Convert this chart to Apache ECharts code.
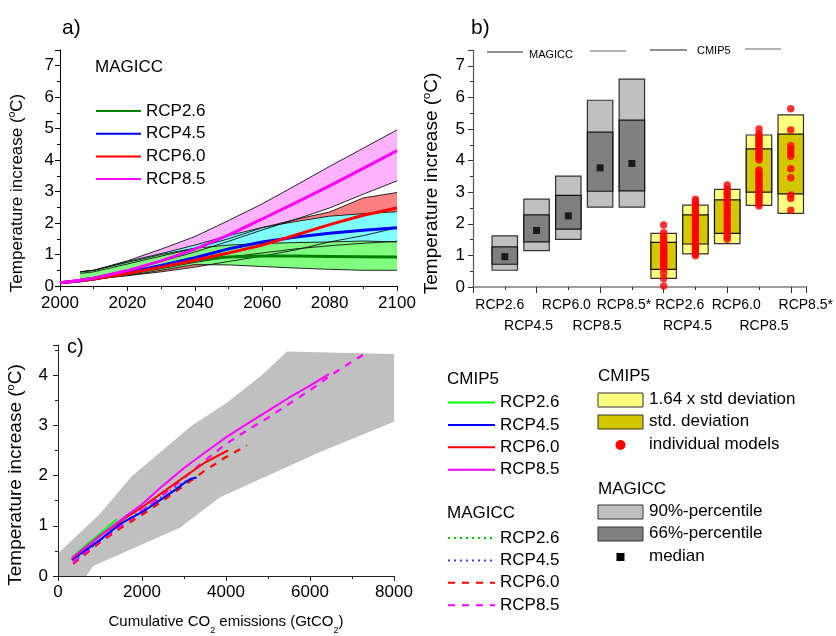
<!DOCTYPE html>
<html><head><meta charset="utf-8">
<script src="https://cdn.jsdelivr.net/npm/echarts@6/dist/echarts.min.js"></script>
<style>html,body{margin:0;padding:0;background:#fff}#c{width:836px;height:636px}</style>
</head><body><div id="c"></div>
<script>
// ---------------- DATA ----------------
// Panel a: MAGICC projections (years, ranges and medians)
const bandYears = [2006, 2010, 2020, 2030, 2040, 2050, 2060, 2070, 2080, 2090, 2100];
const medianYears = [2000, 2006, 2010, 2020, 2030, 2040, 2050, 2060, 2070, 2080, 2090, 2100];
const rcp85Upper = [0.45, 0.50, 0.80, 1.17, 1.57, 2.08, 2.61, 3.20, 3.80, 4.38, 4.96];
const rcp85Lower = [0.22, 0.28, 0.50, 0.78, 1.08, 1.42, 1.78, 2.12, 2.48, 2.92, 3.34];
const rcp60Upper = [0.40, 0.45, 0.70, 0.95, 1.20, 1.50, 1.85, 2.12, 2.35, 2.80, 2.97];
const rcp60Lower = [0.20, 0.22, 0.33, 0.45, 0.60, 0.78, 0.95, 1.15, 1.40, 1.60, 1.85];
const rcp45Upper = [0.45, 0.50, 0.78, 1.03, 1.30, 1.60, 1.86, 2.05, 2.22, 2.30, 2.36];
const rcp45Lower = [0.20, 0.22, 0.36, 0.55, 0.75, 0.92, 1.05, 1.18, 1.28, 1.36, 1.42];
const rcp26Upper = [0.45, 0.50, 0.75, 1.00, 1.20, 1.30, 1.35, 1.38, 1.40, 1.43, 1.40];
const rcp26Lower = [0.20, 0.22, 0.33, 0.50, 0.68, 0.67, 0.62, 0.57, 0.53, 0.50, 0.50];
const rcp26Median = [0.10, 0.17, 0.22, 0.40, 0.62, 0.83, 0.92, 0.95, 0.95, 0.94, 0.93, 0.92];
const rcp45Median = [0.10, 0.17, 0.22, 0.42, 0.65, 0.90, 1.18, 1.40, 1.56, 1.68, 1.77, 1.85];
const rcp60Median = [0.10, 0.17, 0.22, 0.40, 0.60, 0.82, 1.05, 1.30, 1.62, 1.95, 2.25, 2.48];
const rcp85Median = [0.10, 0.18, 0.25, 0.49, 0.80, 1.17, 1.62, 2.13, 2.65, 3.18, 3.74, 4.30];

// Panel b: boxes
const boxCategories = ['RCP2.6', 'RCP4.5', 'RCP6.0', 'RCP8.5', 'RCP8.5*', 'RCP2.6', 'RCP4.5', 'RCP6.0', 'RCP8.5', 'RCP8.5*'];
const magiccLo90 = [0.53, 1.15, 1.51, 2.53, 2.53];
const magiccHi90 = [1.62, 2.78, 3.51, 5.91, 6.58];
const magiccLo66 = [0.72, 1.43, 1.83, 3.03, 3.04];
const magiccHi66 = [1.27, 2.28, 2.90, 4.90, 5.28];
const magiccMedian = [0.96, 1.79, 2.25, 3.77, 3.91];
const cmipLo164 = [0.27, 1.05, 1.37, 2.58, 2.33];
const cmipHi164 = [1.70, 2.59, 3.09, 4.81, 5.45];
const cmipLoStd = [0.56, 1.36, 1.70, 3.00, 2.95];
const cmipHiStd = [1.41, 2.28, 2.76, 4.37, 4.84];
const models26 = [0.03, 0.27, 0.45, 0.60, 0.65, 0.70, 0.75, 0.80, 0.85, 0.90, 0.95, 1.00, 1.05, 1.10, 1.15, 1.20, 1.25, 1.30, 1.40, 1.50, 1.60, 1.72, 1.96];
const models45 = [0.99, 1.05, 1.12, 1.20, 1.28, 1.35, 1.42, 1.50, 1.58, 1.65, 1.72, 1.80, 1.88, 1.95, 2.02, 2.10, 2.18, 2.25, 2.32, 2.40, 2.50, 2.60, 2.68, 2.78];
const models60 = [1.51, 1.60, 1.70, 1.80, 1.90, 2.00, 2.10, 2.20, 2.30, 2.40, 2.50, 2.60, 2.70, 2.80, 2.90, 3.00, 3.10, 3.23];
const models85 = [5.00, 4.85, 4.78, 4.70, 4.62, 4.55, 4.48, 4.40, 4.32, 4.25, 4.18, 4.10, 4.02, 3.70, 3.62, 3.55, 3.48, 3.40, 3.32, 3.25, 3.18, 3.10, 3.02, 2.95, 2.88, 2.80, 2.72, 2.64, 2.56];
const models85s = [5.64, 4.97, 4.47, 4.36, 4.25, 4.14, 3.74, 3.46, 2.91, 2.80, 2.43];

// Panel c: cumulative emissions vs temperature
const rangeUpperX = [0, 1000, 1750, 3180, 4020, 4850, 5450, 8000];
const rangeUpperY = [0.45, 1.24, 1.98, 2.99, 3.45, 4.00, 4.47, 4.42];
const rangeLowerX = [8000, 6240, 3860, 2900, 840, 670, 0];
const rangeLowerY = [3.07, 2.47, 1.57, 0.96, 0.20, 0.00, 0.00];
const cmip26X = [330, 700, 1000, 1400];
const cmip26Y = [0.37, 0.64, 0.84, 1.13];
const cmip45X = [330, 1000, 1500, 2000, 2500, 2800, 3000, 3150, 3300];
const cmip45Y = [0.32, 0.72, 1.05, 1.27, 1.55, 1.72, 1.85, 1.93, 1.96];
const cmip60X = [330, 1000, 1500, 2000, 2500, 3000, 3500, 4050];
const cmip60Y = [0.34, 0.80, 1.10, 1.37, 1.67, 1.97, 2.26, 2.50];
const cmip85X = [330, 700, 1000, 1500, 2000, 2500, 3000, 3500, 4000, 4500, 5000, 5500, 6000, 6450];
const cmip85Y = [0.36, 0.60, 0.80, 1.12, 1.43, 1.80, 2.15, 2.46, 2.76, 3.03, 3.29, 3.55, 3.79, 4.02];
const mag26X = [360, 800, 1300];
const mag26Y = [0.30, 0.60, 0.93];
const mag45X = [360, 1000, 1500, 2000, 2500, 3000, 3150];
const mag45Y = [0.28, 0.70, 1.03, 1.32, 1.60, 1.88, 1.93];
const mag60X = [360, 1000, 1500, 2000, 2500, 3000, 3500, 4000, 4500];
const mag60Y = [0.24, 0.67, 0.96, 1.22, 1.50, 1.80, 2.10, 2.37, 2.60];
const mag85X = [360, 1000, 1500, 2000, 2500, 3000, 3500, 4000, 4500, 5000, 5500, 6000, 6500, 7000, 7400];
const mag85Y = [0.27, 0.70, 1.00, 1.30, 1.62, 1.95, 2.30, 2.63, 2.90, 3.15, 3.43, 3.70, 4.00, 4.27, 4.47];

// ---------------- STYLE ----------------
const FONT = '"Liberation Sans", Arial, sans-serif';
const zip = (xs, ys) => xs.map((x, i) => [x, ys[i]]);
const labelRow = {1: 1, 2: 2, 3: 1, 4: 2, 5: 1, 6: 1, 7: 2, 8: 1, 9: 2, 10: 1};
const labelShift = {1: -5, 2: -8, 3: -2, 4: -3, 5: -8, 6: 16, 7: -8, 8: 9, 9: 5, 10: 15};
const richB = {};
Object.keys(labelShift).forEach(k => {
  const d = labelShift[k];
  richB['o' + k] = {fontSize: 14, fontFamily: FONT, color: '#000',
    padding: [0, d < 0 ? -2 * d : 0, 0, d > 0 ? 2 * d : 0]};
});
function rowFormatter(row) {
  return v => {
    const i = Math.round(v);
    if (Math.abs(v - i) > 1e-6 || i < 1 || i > boxCategories.length) return '';
    if (labelRow[i] !== row) return '';
    return '{o' + i + '|' + boxCategories[i - 1] + '}';
  };
}
const intLabel = v => (Math.abs(v - Math.round(v)) < 1e-6 ? String(Math.round(v)) : '');
const plainLabel = v => String(v);
const titleRich = {sup: {fontSize: 10, fontFamily: FONT, color: '#000', verticalAlign: 'top', lineHeight: 20}};

const chart = echarts.init(document.getElementById('c'), null, {renderer: 'canvas'});

function bandSeries(upper, lower, color) {
  return {
    type: 'custom', xAxisIndex: 0, yAxisIndex: 0, silent: true, z: 1,
    data: [[bandYears[0], lower[0]]],
    renderItem: (params, api) => {
      const pts = [];
      bandYears.forEach((y, i) => pts.push(api.coord([y, upper[i]])));
      for (let i = bandYears.length - 1; i >= 0; i--) pts.push(api.coord([bandYears[i], lower[i]]));
      return {type: 'polygon', shape: {points: pts}, style: {fill: color}};
    }
  };
}
function outline(vals) {
  return {type: 'line', xAxisIndex: 0, yAxisIndex: 0, silent: true, z: 3, symbol: 'none',
    data: zip(bandYears, vals), lineStyle: {color: '#111', width: 0.9}};
}
function median(name, vals, color) {
  return {name: name, type: 'line', xAxisIndex: 0, yAxisIndex: 0, z: 4, symbol: 'none', showSymbol: false,
    data: zip(medianYears, vals), lineStyle: {color: color, width: 3}, itemStyle: {color: color}};
}
function boxSeries(pos, lo, hi, loIn, hiIn, light, dark) {
  return {
    type: 'custom', xAxisIndex: 1, yAxisIndex: 1, silent: true, z: 2,
    data: pos.map((x, i) => [x, lo[i], hi[i], loIn[i], hiIn[i]]),
    encode: {x: 0, y: [1, 2, 3, 4]},
    renderItem: (params, api) => {
      const x = api.value(0);
      const w = api.size([0.8, 0])[0];
      const a0 = api.coord([x, api.value(1)]), a1 = api.coord([x, api.value(2)]);
      const b0 = api.coord([x, api.value(3)]), b1 = api.coord([x, api.value(4)]);
      return {type: 'group', children: [
        {type: 'rect', shape: {x: a1[0] - w / 2, y: a1[1], width: w, height: a0[1] - a1[1]},
          style: {fill: light, stroke: '#333', lineWidth: 1.2}},
        {type: 'rect', shape: {x: b1[0] - w / 2, y: b1[1], width: w, height: b0[1] - b1[1]},
          style: {fill: dark, stroke: '#111', lineWidth: 1.2}}
      ]};
    }
  };
}
const magiccPos = [1, 2, 3, 4, 5];
const cmipPos = [6, 7, 8, 9, 10];
const modelSets = [models26, models45, models60, models85, models85s];
const modelPoints = [];
modelSets.forEach((set, k) => set.forEach(v => modelPoints.push([cmipPos[k], v])));

function cLine(name, xs, ys, color, width, type) {
  return {name: name, type: 'line', xAxisIndex: 4, yAxisIndex: 2, z: 4, symbol: 'none', showSymbol: false,
    data: zip(xs, ys), lineStyle: {color: color, width: width, type: type || 'solid'}, itemStyle: {color: color}};
}

const axisText = {fontSize: 17, fontFamily: FONT, color: '#000'};
const legendBase = {orient: 'vertical', padding: 0, selectedMode: false, itemHeight: 14,
  itemStyle: {opacity: 0, borderWidth: 0},
  formatter: n => n.split('|')[0], textStyle: {fontSize: 17, lineHeight: 20, fontFamily: FONT, color: '#000'}};

const option = {
  animation: false,
  backgroundColor: '#fff',
  textStyle: {fontFamily: FONT},
  grid: [
    {left: 60, top: 50, width: 337, height: 236},
    {left: 473, top: 50, width: 336, height: 237},
    {left: 58, top: 345, width: 336, height: 235}
  ],
  xAxis: [
    {gridIndex: 0, type: 'value', position: 'bottom', min: 2000, max: 2100, interval: 20,
      axisLine: {lineStyle: {color: '#000', width: 1}}, axisTick: {length: 5, lineStyle: {color: '#000'}},
      minorTick: {show: true, splitNumber: 2, length: 3, lineStyle: {color: '#000'}},
      splitLine: {show: false}, axisLabel: Object.assign({margin: 9, formatter: plainLabel}, axisText)},
    {gridIndex: 1, type: 'value', position: 'bottom', min: 0, max: 10.5, interval: 2,
      axisLine: {lineStyle: {color: '#7f7f7f', width: 1.5}}, axisTick: {length: 6, lineStyle: {color: '#333'}},
      minorTick: {show: true, splitNumber: 2, length: 3, lineStyle: {color: '#333'}},
      splitLine: {show: false}, axisLabel: {show: false}},
    {gridIndex: 1, type: 'value', position: 'bottom', offset: 0, min: 0, max: 10.5, interval: 1,
      axisLine: {show: false}, axisTick: {show: false}, splitLine: {show: false},
      axisLabel: {margin: 11, formatter: rowFormatter(1), rich: richB, fontSize: 14, color: '#000'}},
    {gridIndex: 1, type: 'value', position: 'bottom', offset: 0, min: 0, max: 10.5, interval: 1,
      axisLine: {show: false}, axisTick: {show: false}, splitLine: {show: false},
      axisLabel: {margin: 32, formatter: rowFormatter(2), rich: richB, fontSize: 14, color: '#000'}},
    {gridIndex: 2, type: 'value', position: 'bottom', min: 0, max: 8000, interval: 2000, z: 5,
      axisLine: {lineStyle: {color: '#222', width: 1}}, axisTick: {length: 5, lineStyle: {color: '#222'}},
      minorTick: {show: true, splitNumber: 2, length: 3, lineStyle: {color: '#222'}},
      splitLine: {show: false}, axisLabel: Object.assign({margin: 8, formatter: plainLabel}, axisText),
      name: 'Cumulative CO{sub|2} emissions (GtCO{sub|2})', nameLocation: 'middle', nameGap: 37,
      nameTextStyle: {fontSize: 15, fontFamily: FONT, color: '#000', lineHeight: 18,
        rich: {sub: {fontSize: 9, fontFamily: FONT, color: '#000', verticalAlign: 'bottom', lineHeight: 18, padding: [0, 0, -4, 0]}}}}
  ],
  yAxis: [
    {gridIndex: 0, type: 'value', min: 0, max: 7.5, interval: 1,
      axisLine: {show: true, lineStyle: {color: '#000', width: 1}}, axisTick: {show: true, length: 5, lineStyle: {color: '#000'}},
      minorTick: {show: true, splitNumber: 2, length: 3, lineStyle: {color: '#000'}},
      splitLine: {show: false}, axisLabel: Object.assign({margin: 6, formatter: intLabel}, axisText),
      name: 'Temperature increase ({sup|o}C)', nameLocation: 'middle', nameRotate: 90, nameGap: 33,
      nameTextStyle: {fontSize: 17, fontFamily: FONT, color: '#000', lineHeight: 20, padding: [0, 50, 0, 0], rich: titleRich}},
    {gridIndex: 1, type: 'value', min: 0, max: 7.5, interval: 1,
      axisLine: {show: true, lineStyle: {color: '#555', width: 1.2}}, axisTick: {show: true, length: 5, lineStyle: {color: '#333'}},
      minorTick: {show: true, splitNumber: 2, length: 3, lineStyle: {color: '#333'}},
      splitLine: {show: false}, axisLabel: Object.assign({margin: 8, formatter: intLabel}, axisText),
      name: 'Temperature increase ({sup|o}C)', nameLocation: 'middle', nameRotate: 90, nameGap: 30,
      nameTextStyle: {fontSize: 19, fontFamily: FONT, color: '#000', lineHeight: 22, padding: [0, 30, 0, 0], rich: {sup: {fontSize: 11, fontFamily: FONT, color: '#000', verticalAlign: 'top', lineHeight: 22}}}},
    {gridIndex: 2, type: 'value', min: 0, max: 4.6, interval: 1, z: 5,
      axisLine: {show: true, lineStyle: {color: '#222', width: 1}}, axisTick: {show: true, length: 5, lineStyle: {color: '#222'}},
      minorTick: {show: true, splitNumber: 2, length: 3, lineStyle: {color: '#222'}},
      splitLine: {show: false}, axisLabel: Object.assign({margin: 10, formatter: intLabel}, axisText),
      name: 'Temperature increase ({sup|o}C)', nameLocation: 'middle', nameRotate: 90, nameGap: 31,
      nameTextStyle: {fontSize: 19, fontFamily: FONT, color: '#000', lineHeight: 22, padding: [0, 29, 0, 0], rich: {sup: {fontSize: 11, fontFamily: FONT, color: '#000', verticalAlign: 'top', lineHeight: 22}}}}
  ],
  legend: [
    Object.assign({}, legendBase, {data: ['RCP2.6|a', 'RCP4.5|a', 'RCP6.0|a', 'RCP8.5|a'], left: 95, top: 101,
      itemWidth: 45, itemGap: 2.7}),
    Object.assign({}, legendBase, {data: ['RCP2.6|c', 'RCP4.5|c', 'RCP6.0|c', 'RCP8.5|c'], left: 447, top: 392.5,
      itemWidth: 47, itemGap: 2.4}),
    Object.assign({}, legendBase, {data: ['RCP2.6|m', 'RCP4.5|m', 'RCP6.0|m', 'RCP8.5|m'], left: 447, top: 528,
      itemWidth: 47, itemGap: 2.4})
  ],
  graphic: [
    {type: 'text', left: 62, top: 18, style: {text: 'a)', fontSize: 21, fontFamily: FONT, fill: '#000'}},
    {type: 'text', left: 471, top: 18, style: {text: 'b)', fontSize: 21, fontFamily: FONT, fill: '#000'}},
    {type: 'text', left: 67, top: 337, style: {text: 'c)', fontSize: 20, fontFamily: FONT, fill: '#000'}},
    {type: 'text', left: 95, top: 59, style: {text: 'MAGICC', fontSize: 17, fontFamily: FONT, fill: '#000'}},
    // panel b group annotations
    {type: 'line', shape: {x1: 487, y1: 52, x2: 523, y2: 52}, style: {stroke: '#222', lineWidth: 1}},
    {type: 'text', left: 529, top: 49, style: {text: 'MAGICC', fontSize: 11, fontFamily: FONT, fill: '#000'}},
    {type: 'line', shape: {x1: 590, y1: 51, x2: 626, y2: 51}, style: {stroke: '#666', lineWidth: 1}},
    {type: 'line', shape: {x1: 650, y1: 50, x2: 687, y2: 50}, style: {stroke: '#222', lineWidth: 1}},
    {type: 'text', left: 697, top: 45, style: {text: 'CMIP5', fontSize: 11, fontFamily: FONT, fill: '#000'}},
    {type: 'line', shape: {x1: 745, y1: 49, x2: 781, y2: 49}, style: {stroke: '#666', lineWidth: 1}},
    // panel c legend headers
    {type: 'text', left: 447, top: 371, style: {text: 'CMIP5', fontSize: 17, fontFamily: FONT, fill: '#000'}},
    {type: 'text', left: 447, top: 505, style: {text: 'MAGICC', fontSize: 17, fontFamily: FONT, fill: '#000'}},
    // box legend
    {type: 'text', left: 598, top: 368, style: {text: 'CMIP5', fontSize: 17, fontFamily: FONT, fill: '#000'}},
    {type: 'rect', shape: {x: 598, y: 393, width: 45, height: 14}, style: {fill: '#ffff80', stroke: '#333', lineWidth: 1}},
    {type: 'text', left: 649, top: 391, style: {text: '1.64 x std deviation', fontSize: 17, fontFamily: FONT, fill: '#000'}},
    {type: 'rect', shape: {x: 598, y: 415, width: 45, height: 14}, style: {fill: '#d3c800', stroke: '#333', lineWidth: 1}},
    {type: 'text', left: 649, top: 413, style: {text: 'std. deviation', fontSize: 17, fontFamily: FONT, fill: '#000'}},
    {type: 'circle', shape: {cx: 620.5, cy: 445, r: 5}, style: {fill: '#ff0000'}},
    {type: 'text', left: 649, top: 436, style: {text: 'individual models', fontSize: 17, fontFamily: FONT, fill: '#000'}},
    {type: 'text', left: 598, top: 481, style: {text: 'MAGICC', fontSize: 17, fontFamily: FONT, fill: '#000'}},
    {type: 'rect', shape: {x: 598, y: 505, width: 45, height: 14}, style: {fill: '#c0c0c0', stroke: '#333', lineWidth: 1}},
    {type: 'text', left: 649, top: 503, style: {text: '90%-percentile', fontSize: 17, fontFamily: FONT, fill: '#000'}},
    {type: 'rect', shape: {x: 598, y: 527, width: 45, height: 14}, style: {fill: '#808080', stroke: '#333', lineWidth: 1}},
    {type: 'text', left: 649, top: 525, style: {text: '66%-percentile', fontSize: 17, fontFamily: FONT, fill: '#000'}},
    {type: 'rect', shape: {x: 616.5, y: 553, width: 8, height: 8}, style: {fill: '#000'}},
    {type: 'text', left: 649, top: 548, style: {text: 'median', fontSize: 17, fontFamily: FONT, fill: '#000'}}
  ],
  series: [
    // panel a bands
    bandSeries(rcp85Upper, rcp85Lower, '#ffb3ff'),
    bandSeries(rcp60Upper, rcp60Lower, '#ff8080'),
    bandSeries(rcp45Upper, rcp45Lower, '#80ffff'),
    bandSeries(rcp26Upper, rcp26Lower, '#80ff80'),
    outline(rcp85Upper), outline(rcp85Lower),
    outline(rcp60Upper), outline(rcp60Lower),
    outline(rcp45Upper), outline(rcp45Lower),
    outline(rcp26Upper), outline(rcp26Lower),
    median('RCP2.6|a', rcp26Median, '#008000'),
    median('RCP4.5|a', rcp45Median, '#0000ff'),
    median('RCP6.0|a', rcp60Median, '#ff0000'),
    median('RCP8.5|a', rcp85Median, '#ff00ff'),
    // panel b
    boxSeries(magiccPos, magiccLo90, magiccHi90, magiccLo66, magiccHi66, '#c0c0c0', '#808080'),
    boxSeries(cmipPos, cmipLo164, cmipHi164, cmipLoStd, cmipHiStd, '#ffff80', '#d3c800'),
    {type: 'scatter', xAxisIndex: 1, yAxisIndex: 1, z: 4, symbol: 'rect', symbolSize: 7,
      data: magiccPos.map((x, i) => [x, magiccMedian[i]]), itemStyle: {color: '#000'}},
    {type: 'scatter', xAxisIndex: 1, yAxisIndex: 1, z: 4, symbol: 'circle', symbolSize: 7.5,
      data: modelPoints, itemStyle: {color: '#ff0000'}},
    // panel c
    {type: 'custom', xAxisIndex: 4, yAxisIndex: 2, silent: true, z: 1,
      data: [[rangeUpperX[0], rangeUpperY[0]]],
      renderItem: (params, api) => {
        const pts = zip(rangeUpperX, rangeUpperY).concat(zip(rangeLowerX, rangeLowerY)).map(p => api.coord(p));
        return {type: 'polygon', shape: {points: pts}, style: {fill: '#c0c0c0'}};
      }},
    cLine('RCP2.6|c', cmip26X, cmip26Y, '#00ff00', 2),
    cLine('RCP2.6|m', mag26X, mag26Y, '#00cc00', 1, [2, 4]),
    cLine('RCP4.5|m', mag45X, mag45Y, '#4040ff', 1.5, [2, 4]),
    cLine('RCP6.0|m', mag60X, mag60Y, '#ff0000', 2.2, [7, 7]),
    cLine('RCP8.5|m', mag85X, mag85Y, '#ff00ff', 2.2, [7, 7]),
    cLine('RCP4.5|c', cmip45X, cmip45Y, '#0000ff', 2),
    cLine('RCP6.0|c', cmip60X, cmip60Y, '#ff0000', 2),
    cLine('RCP8.5|c', cmip85X, cmip85Y, '#ff00ff', 2)
  ]
};
chart.setOption(option);
</script></body></html>
